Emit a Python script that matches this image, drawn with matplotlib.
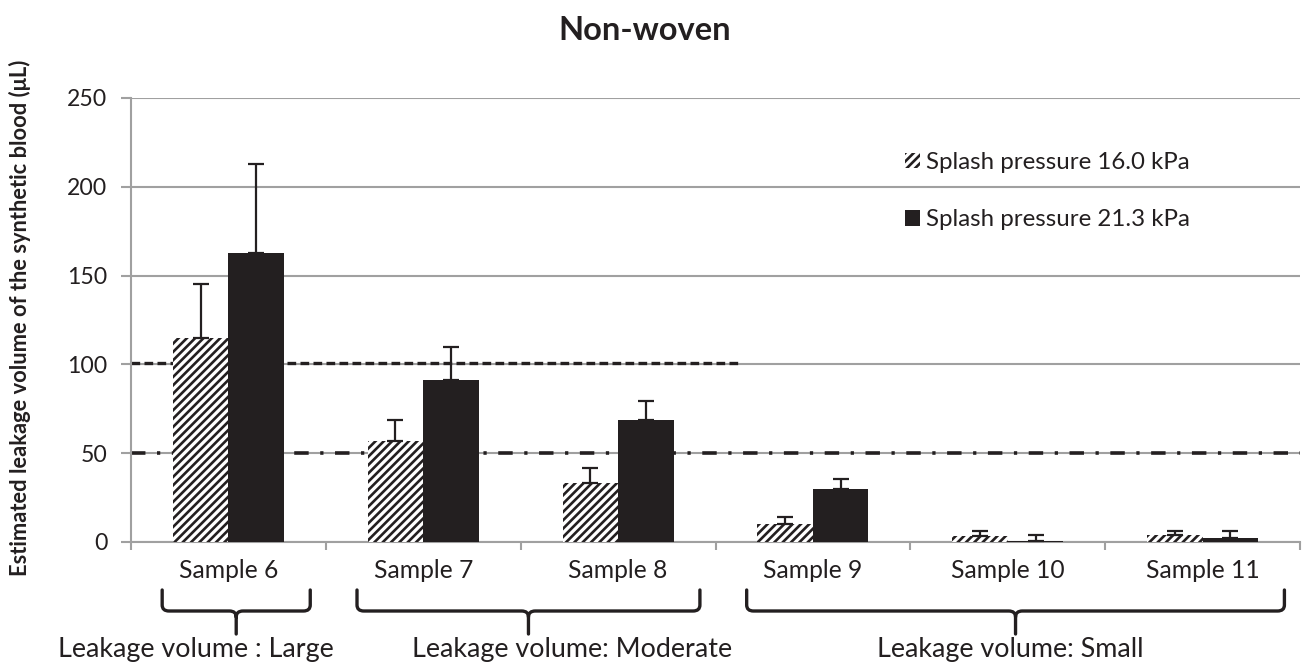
import numpy as np
import matplotlib
matplotlib.use("Agg")
import matplotlib.pyplot as plt
from matplotlib.path import Path
from matplotlib.patches import PathPatch
import matplotlib.transforms as mtrans

# ---------------- data ----------------
categories = ["Sample 6", "Sample 7", "Sample 8", "Sample 9", "Sample 10", "Sample 11"]
series_labels = ["Splash pressure 16.0 kPa", "Splash pressure 21.3 kPa"]
vals_16 = [115, 57, 33, 10, 3.5, 4]
err_16 = [30.5, 11.5, 8.5, 4.3, 2.9, 2.3]
vals_21 = [163, 91, 68.5, 30, 0.8, 2]
err_21 = [50, 19, 10.8, 5.5, 3.4, 4.4]
ref_dashed = 101     # dashed reference line (Large / Moderate limit)
ref_dashdot = 50     # dash-dot reference line (Moderate / Small limit)
yticks = [0, 50, 100, 150, 200, 250]
groups = [("Leakage volume : Large", 0, 0),
          ("Leakage volume: Moderate", 1, 2),
          ("Leakage volume: Small", 3, 5)]
title = "Non-woven"
ylabel = "Estimated leakage volume of the synthetic blood (μL)"

# ---------------- style ----------------
plt.rcParams['font.family'] = ['Lato', 'DejaVu Sans']
plt.rcParams['hatch.linewidth'] = 1.9
INK = '#231F20'
GRID = '#A0A0A0'

W, H = 1306, 665
fig = plt.figure(figsize=(W / 100, H / 100), dpi=100)
renderer = fig.canvas.get_renderer()

def fit_size(s, target_px, weight='normal', base=20.0):
    t = fig.text(0, 0, s, fontsize=base, fontweight=weight)
    w = t.get_window_extent(renderer).width
    t.remove()
    return base * target_px / w

fs_tick = fit_size("Sample 6", 99)
fs_ytick = fit_size("250", 40)
fs_leg = fit_size(series_labels[0], 263)
fs_group = fit_size(groups[0][0], 277)
fs_title = fit_size(title, 172, weight='bold')
fs_ylab = fit_size(ylabel, 515, weight='bold')

L, R, T, B = 131, 1300, 98, 542
ax = fig.add_axes([L / W, 1 - B / H, (R - L) / W, (B - T) / H])

x = np.arange(len(categories)) + 0.5
bw = 0.285

ax.bar(x - bw / 2, vals_16, bw, color='white', edgecolor=INK, hatch='////',
       linewidth=0, zorder=3, label=series_labels[0])
ax.bar(x + bw / 2, vals_21, bw, color=INK, edgecolor=INK, linewidth=0,
       zorder=3, label=series_labels[1])
ax.errorbar(x - bw / 2, vals_16, yerr=[np.zeros(len(x)), err_16], fmt='none',
            ecolor=INK, elinewidth=1.6, capsize=5.5, capthick=1.6, zorder=4)
ax.errorbar(x + bw / 2, vals_21, yerr=[np.zeros(len(x)), err_21], fmt='none',
            ecolor=INK, elinewidth=1.6, capsize=5.5, capthick=1.6, zorder=4)

# reference lines
ax.plot([0, 3.12], [ref_dashed, ref_dashed], color=INK, lw=2.4,
        dashes=(2.6, 1.3), dash_capstyle='butt', zorder=2.5)
ax.plot([0, len(categories)], [ref_dashdot, ref_dashdot], color=INK, lw=2.6,
        dashes=(4.0, 3.2, 0.9, 3.2), dash_capstyle='butt', zorder=2.5)

ax.set_xlim(0, len(categories))
ax.set_ylim(0, 250)
ax.set_yticks(yticks)
ax.set_yticklabels([str(v) for v in yticks], fontsize=fs_ytick, color=INK)
ax.yaxis.grid(True, color=GRID, lw=1.5, zorder=0)
ax.set_axisbelow(True)

ax.set_xticks(np.arange(len(categories) + 1))
ax.set_xticklabels([])
ax.set_xticks(x, minor=True)
ax.set_xticklabels(categories, minor=True, fontsize=fs_tick, color=INK)
ax.tick_params(axis='x', which='minor', length=0, pad=12)
ax.tick_params(axis='x', which='major', length=6, width=1.5, color=GRID, direction='out')
ax.tick_params(axis='y', length=7, width=1.5, color=GRID, direction='out', pad=10)
for s in ['top', 'right']:
    ax.spines[s].set_visible(False)
for s in ['left', 'bottom']:
    ax.spines[s].set_color(GRID)
    ax.spines[s].set_linewidth(1.5)

ax.set_ylabel(ylabel, fontsize=fs_ylab, fontweight='bold', color=INK)
ax.yaxis.set_label_coords(20 / W, 1 - 318 / H, transform=fig.transFigure)
ax.yaxis.label.set_va('center')

fig.text(645 / W, 1 - 31 / H, title, ha='center', va='center',
         fontsize=fs_title, fontweight='bold', color=INK)

# legend
fs_px = fs_leg * 100 / 72
leg = ax.legend(loc='upper left', bbox_to_anchor=(905 / W, 1 - 152 / H),
                bbox_transform=fig.transFigure, frameon=False, fontsize=fs_leg,
                handlelength=15 / fs_px, handleheight=15 / fs_px,
                handletextpad=6 / fs_px, borderpad=0,
                labelspacing=(59 - 0.95 * fs_px) / fs_px, borderaxespad=0)
for t in leg.get_texts():
    t.set_color(INK)

# braces and group labels
trans = mtrans.blended_transform_factory(ax.transData, fig.transFigure)
def fy(py):
    return 1 - py / H
def fx(px):
    return (px - L) / ((R - L) / len(categories))
label_left_px = [58, 412, 877]
for (name, i0, i1), lpx in zip(groups, label_left_px):
    x0 = x[i0] - 0.34
    x1 = x[i1] + 0.42
    xm = (x0 + x1) / 2
    r = 0.035
    top, mid, tip = 590, 611, 634
    verts = [(x0, fy(top)), (x0, fy(mid - 6)), (x0, fy(mid)), (x0 + r, fy(mid)),
             (xm - r, fy(mid)), (xm, fy(mid)), (xm, fy(mid + 6)), (xm, fy(tip)),
             (xm, fy(mid + 6)), (xm, fy(mid)), (xm + r, fy(mid)),
             (x1 - r, fy(mid)), (x1, fy(mid)), (x1, fy(mid - 6)), (x1, fy(top))]
    codes = [Path.MOVETO, Path.LINETO, Path.CURVE3, Path.CURVE3,
             Path.LINETO, Path.CURVE3, Path.CURVE3, Path.LINETO,
             Path.MOVETO, Path.CURVE3, Path.CURVE3,
             Path.LINETO, Path.CURVE3, Path.CURVE3, Path.LINETO]
    pp = PathPatch(Path(verts, codes), transform=trans, fill=False, lw=2.4,
                   edgecolor=INK, clip_on=False, capstyle='round', joinstyle='round')
    fig.add_artist(pp)
    ax.text(fx(lpx), fy(650), name, transform=trans, ha='left', va='center',
            fontsize=fs_group, color=INK, clip_on=False)

fig.savefig("out.png", dpi=100)
